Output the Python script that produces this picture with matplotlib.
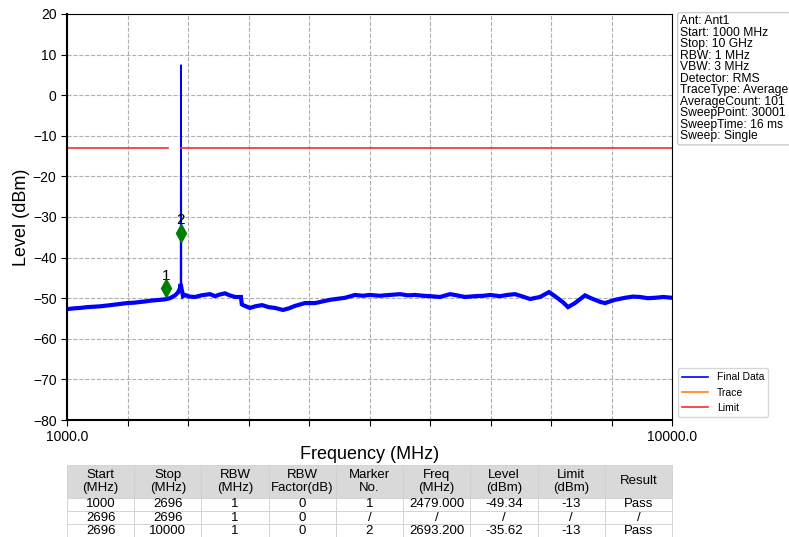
import numpy as np
import matplotlib
matplotlib.use('Agg')
import matplotlib.pyplot as plt

plt.rcParams['font.family'] = ['Liberation Sans', 'DejaVu Sans']

# trace (MHz, dBm)
freq = [1000, 1100, 1193, 1300, 1491, 1650, 1893, 2000, 2160, 2250, 2383, 2450, 2532, 2607,
        2651, 2681, 2690, 2696, 2702, 2726, 2755, 2820, 2904, 3000, 3127, 3202, 3270, 3350,
        3420, 3499, 3588, 3600, 3618, 3722, 3800, 3901, 4000, 4094, 4213, 4300, 4392, 4540,
        4689, 4800, 4912, 5136, 5284, 5400, 5507, 5650, 5805, 5954, 6070, 6177, 6300, 6400,
        6549, 6698, 6800, 6921, 7070, 7200, 7293, 7441, 7550, 7664, 7780, 7888, 8036, 8170,
        8259, 8378, 8453, 8557, 8706, 8780, 8929, 9003, 9152, 9301, 9420, 9524, 9640, 9747,
        9870, 10000]
level = [-52.7, -52.5, -52.4, -52.2, -52.0, -51.7, -51.2, -51.1, -50.8, -50.6, -50.4, -50.3,
         -50.0, -49.3, -48.6, -47.5, -46.5, 7.4, -47.5, -49.5, -49.2, -49.6, -49.7, -49.3,
         -49.0, -49.5, -49.1, -48.8, -49.3, -49.7, -49.7, -51.5, -51.7, -52.4, -52.0, -51.7,
         -52.2, -52.4, -52.9, -52.5, -51.9, -51.2, -51.2, -50.8, -50.4, -49.9, -49.2, -49.4,
         -49.2, -49.4, -49.2, -49.0, -49.3, -49.2, -49.4, -49.5, -49.7, -49.0, -49.3, -49.7,
         -49.5, -49.4, -49.2, -49.5, -49.2, -49.0, -49.6, -50.2, -49.7, -48.5, -49.5, -51.0,
         -52.2, -51.2, -49.3, -49.9, -50.9, -51.2, -50.4, -49.9, -49.6, -49.7, -50.0, -49.9,
         -49.7, -49.9]

limit_f1 = [1000, 2500]
limit_f2 = [2696, 10000]
limit_level = [-13, -13]

marker_no = ['1', '2']
marker_freq = [2479.0, 2693.2]
marker_plot_level = [-47.6, -33.9]

info_lines = ['Ant: Ant1', 'Start: 1000 MHz', 'Stop: 10 GHz', 'RBW: 1 MHz', 'VBW: 3 MHz',
              'Detector: RMS', 'TraceType: Average', 'AverageCount: 101',
              'SweepPoint: 30001', 'SweepTime: 16 ms', 'Sweep: Single']

col_labels = ['Start\n(MHz)', 'Stop\n(MHz)', 'RBW\n(MHz)', 'RBW\nFactor(dB)', 'Marker\nNo.',
              'Freq\n(MHz)', 'Level\n(dBm)', 'Limit\n(dBm)', 'Result']
rows = [['1000', '2696', '1', '0', '1', '2479.000', '-49.34', '-13', 'Pass'],
        ['2696', '2696', '1', '0', '/', '/', '/', '/', '/'],
        ['2696', '10000', '1', '0', '2', '2693.200', '-35.62', '-13', 'Pass']]

fig = plt.figure(figsize=(7.89, 5.37), dpi=100)
ax = fig.add_axes([67/789, 1-420/537, 605/789, 406/537])

ax.plot(freq, level, color='blue', lw=1.2, label='Final Data')
base = [i for i, v in enumerate(level) if v < -45]
ax.plot([freq[i] for i in base], [level[i] for i in base], color='blue', lw=3.0,
        solid_joinstyle='miter')
ax.plot([], [], color='tab:orange', lw=1.2, label='Trace')
ax.plot(limit_f1, limit_level, color='#f03030', lw=1.2, label='Limit')
ax.plot(limit_f2, limit_level, color='#f03030', lw=1.2)

ax.plot(marker_freq, marker_plot_level, 'd', color='green', ms=9, zorder=5)
for n, f, v in zip(marker_no, marker_freq, marker_plot_level):
    ax.text(f, v + 1.4, n, ha='center', va='bottom', fontsize=11)

ax.set_xlim(1000, 10000)
ax.set_ylim(-80, 20)
xt = np.linspace(1000, 10000, 11)
ax.set_xticks(xt)
ax.set_xticklabels(['1000.0'] + [''] * 9 + ['10000.0'])
ax.set_yticks(np.arange(-80, 21, 10))
ax.tick_params(labelsize=10, length=4)
ax.grid(True, ls='--', color='#b0b0b0', lw=0.8)
for s in ['left', 'bottom']:
    ax.spines[s].set_linewidth(1.5)
ax.set_xlabel('Frequency (MHz)', fontsize=13, labelpad=1)
ax.set_ylabel('Level (dBm)', fontsize=13, labelpad=2)

fig.text(680/789, 1-15/537, '\n'.join(info_lines), fontsize=8.7, va='top', ha='left',
         linespacing=0.95,
         bbox=dict(boxstyle='round,pad=0.2', fc='white', ec='#cccccc'))

ax.legend(loc='lower left', bbox_to_anchor=(1.005, 0.0), fontsize=7.5, frameon=True,
          edgecolor='#cccccc', handlelength=2.5, borderaxespad=0.3)

tbl = ax.table(cellText=rows, colLabels=col_labels, cellLoc='center',
               bbox=[0, -0.289, 1, 0.178])
tbl.auto_set_font_size(False)
tbl.set_fontsize(9.5)
for (r, c), cell in tbl.get_celld().items():
    cell.set_edgecolor('#d0d0d0')
    cell.set_linewidth(0.6)
    if r == 0:
        cell.set_height(0.08)
        cell.set_facecolor('#d9d9d9')
    else:
        cell.set_height(0.032)

fig.savefig('out.png', dpi=100)
